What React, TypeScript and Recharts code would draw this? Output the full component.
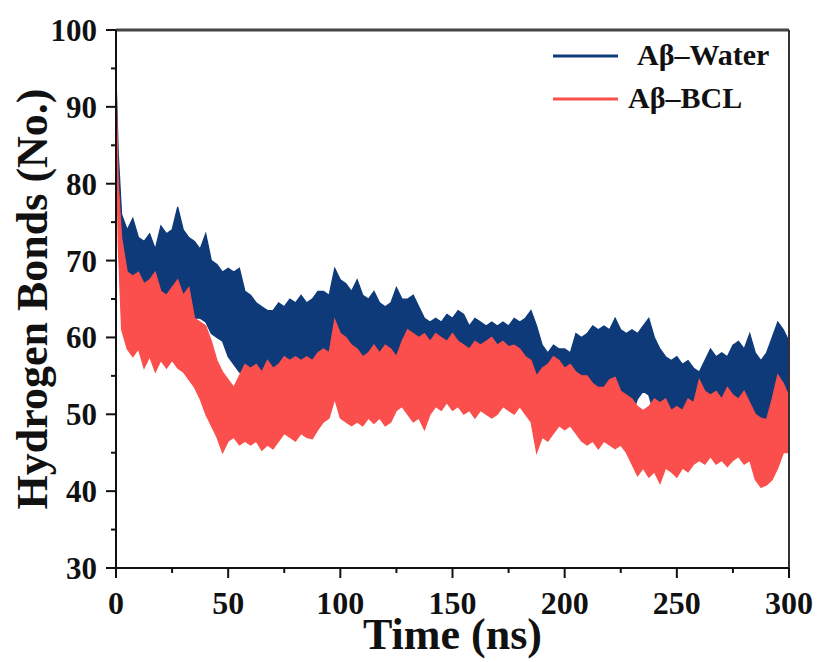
import React from 'react';
import {
  ComposedChart,
  Area,
  XAxis,
  YAxis,
  ReferenceLine,
  Label,
} from 'recharts';

// simulation time (ns)
const timeNs = [
  0, 1, 2.5, 5, 7.5,
  10, 12.5, 15, 17.5,
  20, 22.5, 25, 27.5,
  30, 32.5, 35, 37.5,
  40, 42.5, 45, 47.5,
  50, 52.5, 55, 57.5,
  60, 62.5, 65, 67.5,
  70, 72.5, 75, 77.5,
  80, 82.5, 85, 87.5,
  90, 92.5, 95, 97.5,
  100, 102.5, 105, 107.5,
  110, 112.5, 115, 117.5,
  120, 122.5, 125, 127.5,
  130, 132.5, 135, 137.5,
  140, 142.5, 145, 147.5,
  150, 152.5, 155, 157.5,
  160, 162.5, 165, 167.5,
  170, 172.5, 175, 177.5,
  180, 182.5, 185, 187.5,
  190, 192.5, 195, 197.5,
  200, 202.5, 205, 207.5,
  210, 212.5, 215, 217.5,
  220, 222.5, 225, 227.5,
  230, 232.5, 235, 237.5,
  240, 242.5, 245, 247.5,
  250, 252.5, 255, 257.5,
  260, 262.5, 265, 267.5,
  270, 272.5, 275, 277.5,
  280, 282.5, 285, 287.5,
  290, 292.5, 295, 297.5,
  300,
];

// Aβ-Water: upper / lower edge of the fluctuating H-bond count
const waterHigh = [
  94, 84, 76, 74, 75.5,
  73, 72.5, 73.5, 71.5,
  74.5, 73.5, 74, 77,
  74, 73, 72.5, 71.5,
  73.5, 70, 69.5, 68.5,
  69, 68.5, 69, 66,
  65.5, 64.5, 64, 63.5,
  63.5, 64.5, 64, 65,
  64.5, 65.5, 64.5, 65,
  66, 66, 65.5, 69,
  67.5, 67, 66, 67.5,
  65.5, 65, 66, 64.5,
  64, 64.5, 66.5, 65,
  65, 65.5, 64, 62.5,
  62, 62.5, 62, 63,
  62.5, 63.5, 63, 61.5,
  62.5, 62, 61.5, 62,
  61.5, 62, 61.5, 62.5,
  62, 62.5, 63.5, 61.5,
  59, 58, 59, 58.5,
  58.5, 58, 60.5, 60,
  60.5, 61.5, 61, 61.5,
  61, 62.5, 61, 60.5,
  61, 60.5, 61.5, 62.5,
  60, 58.5, 57.5, 57,
  57.5, 56.5, 57, 56,
  55.5, 57, 58.5, 57.5,
  58, 57.5, 59, 59.5,
  58.5, 60.5, 58, 57,
  58, 60, 62, 61,
  59.5,
];

const waterLow = [
  90, 76, 69, 65, 64.5,
  65, 64, 64.5, 65,
  63, 62.5, 63.5, 64.5,
  62.5, 63, 62.5, 62.5,
  62, 60.5, 60, 59.5,
  57.5, 56.5, 55.5, 55,
  54, 54.5, 53.5, 55,
  54, 54.5, 55, 55,
  55.5, 55, 55.5, 55,
  56, 56.5, 56, 59,
  58, 57.5, 56.5, 56,
  55, 55.5, 56.5, 55.5,
  56.5, 56, 55, 57,
  58, 58, 57.5, 58,
  57, 58, 57.5, 57,
  58, 57, 56.5, 56,
  57, 56.5, 57, 57.5,
  56.5, 57, 56.5, 56.5,
  56, 55, 54.5, 53.6,
  53.5, 54, 55, 54.5,
  53.5, 54, 53, 52.5,
  52.5, 51.5, 51, 51,
  52, 52, 50.5, 50,
  50, 52, 53, 52.5,
  50, 49, 49.5, 48,
  48.5, 48, 49.5, 49,
  52, 50.5, 50, 50.5,
  49.5, 51, 50, 49.5,
  50.5, 49.5, 49.5, 49.5,
  49.3, 49.5, 52.5, 52,
  52.3,
];

// Aβ-BCL
const bclHigh = [
  94, 80, 73, 68.5, 68,
  68.5, 67, 67.5, 68.5,
  66, 65.5, 66.5, 67.5,
  65.5, 66.5, 62.5, 62,
  61.5, 59.5, 57, 55.5,
  54.5, 53.5, 55, 56.5,
  56, 56.5, 55.5, 57,
  56, 56.5, 57.5, 57,
  57.5, 57, 57.5, 57,
  58, 58.5, 58, 62.3,
  60.5, 60, 59, 58.5,
  57.5, 58, 59, 58,
  59, 58.5, 57.5, 59.5,
  61, 60.5, 60, 60.5,
  59.5, 60.5, 60, 59.5,
  60.5, 59.5, 59, 58.5,
  59.5, 59, 59.5, 60,
  59, 59.5, 58.8, 59,
  58.5, 57.5, 57, 55,
  56, 56.5, 57.5, 57,
  56, 56.5, 55.5, 55,
  55, 54, 53.5, 53.5,
  54.5, 54.8, 53, 52.5,
  52, 51, 50.5, 51,
  52, 51.5, 52, 50.5,
  51, 50.5, 52, 51.5,
  54.5, 53, 52.5, 53,
  52, 53.5, 52.5, 52,
  53, 51.5, 50, 49.5,
  49.3, 52, 55.1, 54,
  52.3,
];

const bclLow = [
  90, 72, 61, 58.5, 57.5,
  58.5, 56, 57.5, 55.5,
  57, 56, 57, 56,
  55.5, 54.5, 53.5, 52,
  50, 48.5, 47, 45,
  46.5, 47, 46, 46.5,
  46, 46.5, 45.3, 46,
  45.5, 46.5, 47.5, 47,
  46.5, 47.5, 47, 46.8,
  48, 49, 49.5, 52,
  49.5, 49, 48.5, 49,
  48.5, 49.5, 48.8, 49.5,
  48.5, 49, 50.5, 51,
  50, 49, 49.5, 48,
  50, 51, 50.5, 51.5,
  50.5, 51, 50, 50.5,
  49.5, 50.5, 50, 49.5,
  50, 51, 50.5, 50,
  51, 50, 49, 45,
  47, 46.5, 47.5, 48.5,
  48, 48.5, 47.5, 46.5,
  46, 46.5, 45.5, 46.5,
  46, 45.5, 46, 45,
  43.5, 42, 43, 41.8,
  42.5, 41, 43, 42.5,
  41.8, 43, 42.5, 43.5,
  44, 43.5, 44.5, 43.5,
  44, 43.2, 44, 44.5,
  43.5, 44, 41.5, 40.5,
  40.8, 41.5, 43, 45,
  45,
];

const xTicks = [0, 25, 50, 75, 100, 125, 150, 175, 200, 225, 250, 275, 300];
const yTicks = [30, 35, 40, 45, 50, 55, 60, 65, 70, 75, 80, 85, 90, 95, 100];
const seriesNames = ['Aβ–Water', 'Aβ–BCL'];

const WATER = '#0e3a7a';
const BCL = '#fa4f4c';
const FONT = '"Liberation Serif", "Times New Roman", serif';

const data = timeNs.map((t, i) => ({
  t,
  water: [waterLow[i], waterHigh[i]],
  bcl: [bclLow[i], bclHigh[i]],
}));

const YTick = ({ x, y, payload }: any) => {
  const v = payload.value;
  const major = v % 10 === 0;
  return (
    <g>
      <line x1={x + (major ? 9 : 14)} x2={x + 19} y1={y} y2={y} stroke="#111" strokeWidth={2} />
      {major && (
        <text x={x} y={y} dy="0.355em" textAnchor="end" fontFamily={FONT} fontWeight="bold" fontSize={31} fill="#111">
          {v}
        </text>
      )}
    </g>
  );
};

const XTick = ({ x, y, payload }: any) => {
  const v = payload.value;
  const major = v % 50 === 0;
  const axisY = y - 23;
  return (
    <g>
      <line x1={x} x2={x} y1={axisY} y2={axisY + (major ? 10 : 5)} stroke="#111" strokeWidth={2} />
      {major && (
        <text x={x} y={y} dy="0.71em" textAnchor="middle" fontFamily={FONT} fontWeight="bold" fontSize={32} fill="#111">
          {v}
        </text>
      )}
    </g>
  );
};

// legend drawn as an overlay so it doesn't push the plot area down
const ChartLegend = () => (
  <svg width={240} height={84} style={{ position: 'absolute', left: 550, top: 30 }}>
    <line x1={3} x2={68} y1={26} y2={26} stroke={WATER} strokeWidth={3} />
    <text x={87} y={35} fontFamily={FONT} fontWeight="bold" fontSize={30} fill="#111">{seriesNames[0]}</text>
    <line x1={3} x2={68} y1={69} y2={69} stroke={BCL} strokeWidth={3} />
    <text x={78} y={78} fontFamily={FONT} fontWeight="bold" fontSize={30} fill="#111">{seriesNames[1]}</text>
  </svg>
);

export default function App() {
  return (
    <div style={{ position: 'absolute', left: 0, top: 0, width: 821, height: 662, background: '#fff' }}>
      <ComposedChart
        width={821}
        height={662}
        data={data}
        margin={{ top: 30, right: 32, bottom: 44, left: 56 }}
      >
        <XAxis
          dataKey="t"
          type="number"
          domain={[0, 300]}
          ticks={xTicks}
          interval={0}
          tickSize={10}
          tickMargin={13}
          tickLine={false}
          tick={<XTick />}
          axisLine={{ stroke: '#111', strokeWidth: 2 }}
          height={50}
        >
          <Label
            content={({ viewBox }: any) => (
              <text
                x={viewBox.x + viewBox.width / 2}
                y={649}
                textAnchor="middle"
                fontFamily={FONT}
                fontWeight="bold"
                fontSize={44}
                fill="#111"
              >
                Time (ns)
              </text>
            )}
          />
        </XAxis>
        <YAxis
          type="number"
          domain={[30, 100]}
          ticks={yTicks}
          interval={0}
          width={60}
          tickSize={10}
          tickMargin={9}
          tickLine={false}
          tick={<YTick />}
          axisLine={{ stroke: '#111', strokeWidth: 2 }}
        >
          <Label
            content={({ viewBox }: any) => {
              const cy = viewBox.y + viewBox.height / 2;
              return (
                <text
                  x={47}
                  y={cy}
                  transform={`rotate(-90, 47, ${cy})`}
                  textAnchor="middle"
                  fontFamily={FONT}
                  fontWeight="bold"
                  fontSize={44}
                  fill="#111"
                >
                  Hydrogen Bonds (No.)
                </text>
              );
            }}
          />
        </YAxis>
        <ReferenceLine y={100} stroke="#444" strokeWidth={3} />
        <ReferenceLine x={300} stroke="#333" strokeWidth={2} />
        <Area
          type="linear"
          dataKey="water"
          name={seriesNames[0]}
          stroke={WATER}
          strokeWidth={1.2}
          fill={WATER}
          fillOpacity={1}
          dot={false}
          activeDot={false}
          isAnimationActive={false}
        />
        <Area
          type="linear"
          dataKey="bcl"
          name={seriesNames[1]}
          stroke={BCL}
          strokeWidth={1.2}
          fill={BCL}
          fillOpacity={1}
          dot={false}
          activeDot={false}
          isAnimationActive={false}
        />
      </ComposedChart>
      <ChartLegend />
    </div>
  );
}
